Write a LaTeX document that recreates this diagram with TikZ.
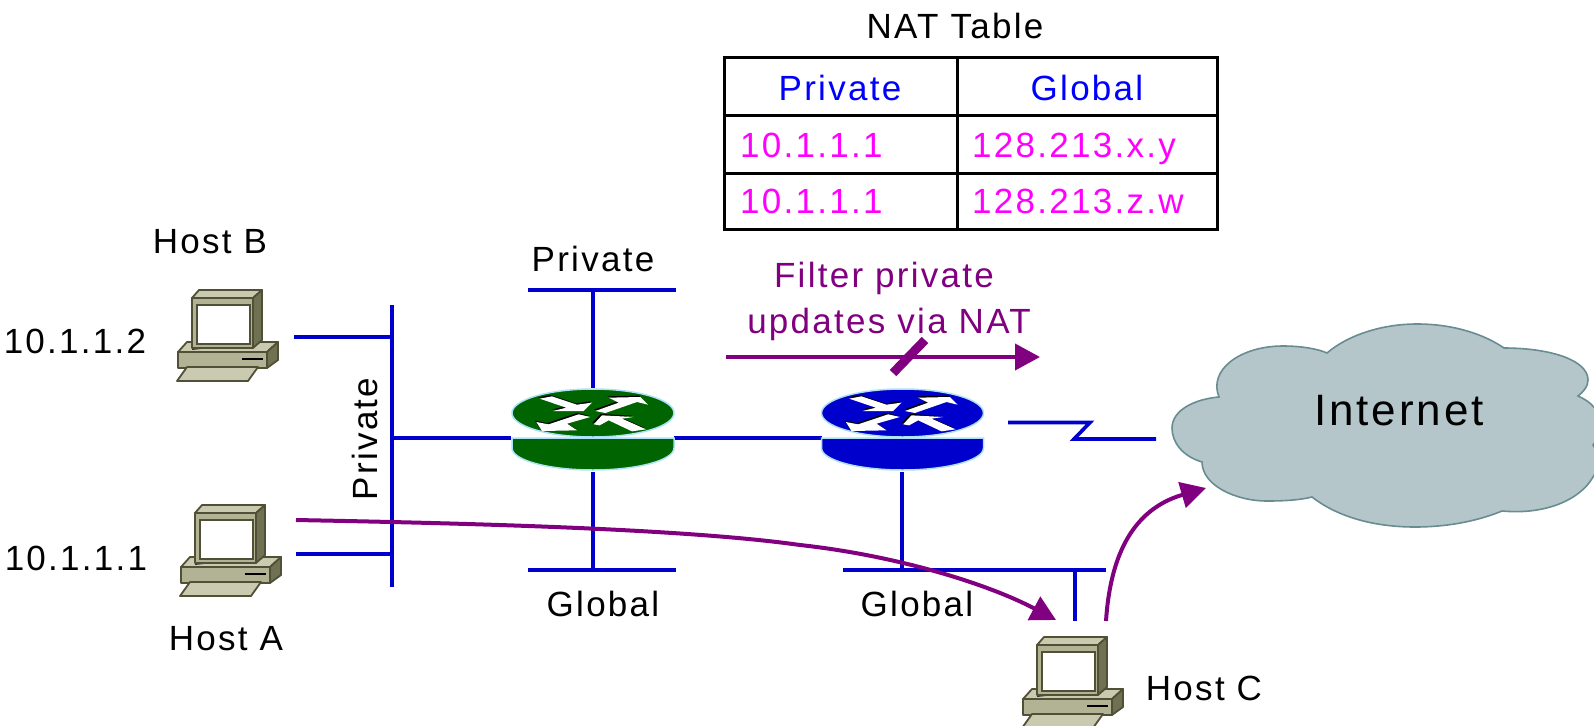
\documentclass[tikz,border=0pt]{standalone}
\usepackage{fontspec}
\setmainfont[LetterSpace=6.5]{Liberation Sans}
\usetikzlibrary{arrows.meta}
\definecolor{netblue}{RGB}{0,0,204}
\definecolor{txtblue}{RGB}{0,0,255}
\definecolor{pink}{RGB}{255,0,255}
\definecolor{plum}{RGB}{128,0,128}
\definecolor{cloudfill}{RGB}{180,198,202}
\definecolor{cloudline}{RGB}{105,140,145}
\definecolor{pcline}{RGB}{80,80,55}
\definecolor{pcfront}{RGB}{178,178,148}
\definecolor{pctop}{RGB}{202,202,176}
\definecolor{pcside}{RGB}{112,112,82}
\definecolor{rgreen}{RGB}{0,100,0}
\definecolor{rblue}{RGB}{0,0,204}
\definecolor{redge}{RGB}{170,225,245}
\newcommand{\rarrows}{%
  (-160,-43)--(-123,-50)--(-48,-25)--(-3,-31)--(-28,-6)--(-120,-6)--(-80,-16)--cycle
  (7,-6)--(77,-31)--(47,-46)--(142,-48)--(165,-25)--(132,-33)--(37,0)--cycle
  (-8,12)--(-78,32)--(-48,52)--(-153,54)--(-170,27)--(-133,34)--(-43,4)--cycle
  (2,34)--(27,7)--(122,12)--(87,17)--(159,49)--(117,55)--(47,22)--(20,37)--cycle}
\tikzset{
  x=1pt,y=-1pt,
  net/.style={draw=netblue,line width=3.6pt},
  flow/.style={draw=plum,line width=4pt,-{Triangle[length=25pt,width=26pt]}},
  label/.style={inner sep=0pt,anchor=base,font=\fontsize{35}{40}\selectfont},
  cell/.style={label,text=txtblue},
  val/.style={label,text=pink,anchor=base west},
  note/.style={label,text=plum},
  grid/.style={draw=black,line width=3pt},
  pcedge/.style={draw=pcline,line width=1.8pt,line join=round},
  pics/pc/.style={code={
    \path[pcedge,fill=pctop] (18,72)--(27,62)--(118,62)--(107,72)--cycle;
    \path[pcedge,fill=pcside] (107,72)--(118,62)--(118,80)--(107,88)--cycle;
    \path[pcedge,fill=pcfront] (18,72)--(107,72)--(107,88)--(18,88)--cycle;
    \draw[black,line width=1.5pt] (82,79)--(103,79);
    \path[fill=black!80] (32,68)--(93,68)--(101,62)--(32,70)--cycle;
    \path[pcedge,fill=pctop] (32,18)--(39,10)--(102,10)--(93,18)--cycle;
    \path[pcedge,fill=pcside] (93,18)--(102,10)--(102,60)--(93,68)--cycle;
    \path[pcedge,fill=pcfront] (32,18)--(93,18)--(93,68)--(32,68)--cycle;
    \path[draw=pcline,line width=1.5pt,fill=white] (37,25)--(90,25)--(90,64)--(37,64)--cycle;
    \path[pcedge,fill=pctop] (27,87)--(98,87)--(88,101)--(17,101)--cycle;
  }},
  pics/router/.style={code={
    \path[fill=#1,draw=redge,line width=1.5pt] (-81,25)--(-81,35) arc[start angle=180,end angle=360,x radius=81,y radius=-22]--(81,25)--cycle;
    \path[fill=#1,draw=redge,line width=1.5pt] (0,0) ellipse[x radius=81,y radius=24];
    \begin{scope}[scale=1/3]
      \path[fill=black,shift={(-4,-4)}] \rarrows;
      \path[fill=white] \rarrows;
    \end{scope}
  }}
}
\begin{document}
\begin{tikzpicture}
\useasboundingbox (0,0) rectangle (1594,725);
\begin{scope}
\clip (0,0) rectangle (1594,725);
% cloud
\path[fill=cloudfill,draw=cloudline,line width=1.6pt]
  (1202,462) .. controls (1182,456) and (1172,442) .. (1172,428)
  .. controls (1172,410) and (1195,399) .. (1219,397)
  .. controls (1208,370) and (1240,346) .. (1283,346)
  .. controls (1302,346) and (1318,349) .. (1327,353)
  .. controls (1348,335) and (1382,324) .. (1417,324)
  .. controls (1455,324) and (1485,335) .. (1504,348)
  .. controls (1550,348) and (1588,360) .. (1588,380)
  .. controls (1588,387) and (1583,392) .. (1578,396)
  .. controls (1592,402) and (1600,412) .. (1600,422)
  .. controls (1600,432) and (1598,440) .. (1593,445)
  .. controls (1600,455) and (1600,468) .. (1593,477)
  .. controls (1580,500) and (1545,515) .. (1502,511)
  .. controls (1475,522) and (1445,527) .. (1415,527)
  .. controls (1370,527) and (1335,515) .. (1312,497)
  .. controls (1300,500) and (1285,501) .. (1267,501)
  .. controls (1235,501) and (1202,485) .. (1202,462) -- cycle;
% named connection points
\coordinate (pubtop) at (392,305);
\coordinate (pubbot) at (392,587);
\coordinate (hbport) at (294,337);
\coordinate (pubhb) at (392,337);
\coordinate (haport) at (296,554);
\coordinate (pubha) at (392,554);
\coordinate (pubr1) at (392,438);
\coordinate (r1w) at (511,438);
\coordinate (r1e) at (674,438);
\coordinate (r2w) at (822,438);
\coordinate (r1n) at (593,388);
\coordinate (r1s) at (593,472);
\coordinate (r2s) at (902,472);
\coordinate (tbl) at (528,290);
\coordinate (tbr) at (676,290);
\coordinate (tbc) at (593,290);
\coordinate (bbl) at (528,570);
\coordinate (bbr) at (676,570);
\coordinate (bbc) at (593,570);
\coordinate (gbl) at (843,570);
\coordinate (gbr) at (1106,570);
\coordinate (gbr2) at (902,570);
\coordinate (gbhc) at (1075,570);
\coordinate (hcport) at (1075,621);
\coordinate (wanA) at (1008,422.5);
\coordinate (wanB) at (1090,422.5);
\coordinate (wanC) at (1074,439);
\coordinate (wanD) at (1156,439);
% networks
\draw[net] (pubtop)--(pubbot);
\draw[net] (hbport)--(pubhb);
\draw[net] (haport)--(pubha);
\draw[net] (pubr1)--(r1w);
\draw[net] (r1e)--(r2w);
\draw[net] (tbl)--(tbr);
\draw[net] (tbc)--(r1n);
\draw[net] (bbl)--(bbr);
\draw[net] (r1s)--(bbc);
\draw[net] (gbl)--(gbr);
\draw[net] (r2s)--(gbr2);
\draw[net] (gbhc)--(hcport);
\draw[net,line join=miter] (wanA)--(wanB)--(wanC)--(wanD);
% devices
\pic at (593,413) {router=rgreen};
\pic at (902.5,413) {router=rblue};
\pic at (160,280) {pc};
\pic at (163,495) {pc};
\pic at (1005,627) {pc};
% flows
\coordinate (fa) at (296,520);
\coordinate (fb) at (1056,620);
\coordinate (fc) at (1106,621);
\coordinate (fd) at (1206,488);
\coordinate (fe) at (726,357);
\coordinate (ff) at (1040,357);
\coordinate (sa) at (893,373);
\coordinate (sb) at (925,340);
\draw[flow] (fa) .. controls (450,523) and (680,528) .. (800,545)
  .. controls (900,556) and (990,585) .. (fb);
\draw[flow] (fc) .. controls (1110,560) and (1130,510) .. (fd);
\draw[flow] (fe)--(ff);
\draw[plum,line width=9pt] (sa)--(sb);
% table
\coordinate (t1) at (724,58);
\coordinate (t2) at (1217,229);
\coordinate (c1) at (957,58);
\coordinate (c2) at (957,229);
\coordinate (ra) at (724,115);
\coordinate (rb) at (1217,115);
\coordinate (rc) at (724,173);
\coordinate (rd) at (1217,173);
\draw[grid] (t1) rectangle (t2);
\draw[grid] (c1)--(c2);
\draw[grid] (ra)--(rb);
\draw[grid] (rc)--(rd);
\node[label] (nat) at (955,38) {NAT Table};
\node[cell] (hp) at (840,100) {Private};
\node[cell] (hg) at (1087,100) {Global};
\node[val] (v1) at (740,157) {10.1.1.1};
\node[val] (v2) at (972,157) {128.213.x.y};
\node[val] (v3) at (740,213) {10.1.1.1};
\node[val] (v4) at (972,213) {128.213.z.w};
% labels
\node[label] (hb) at (210,253) {Host B};
\node[label] (ipb) at (75,353) {10.1.1.2};
\node[label] (ha) at (226,650) {Host A};
\node[label] (ipa) at (76,570) {10.1.1.1};
\node[label] (hc) at (1204,700) {Host C};
\node[label,rotate=90] (pv) at (377,439) {Private};
\node[label] (pt) at (593,271) {Private};
\node[label] (g1) at (603,616) {Global};
\node[label] (g2) at (917,616) {Global};
\node[note] (f1) at (884,287) {Filter private};
\node[note] (f2) at (889,333) {updates via NAT};
\node[label,font=\fontsize{44}{50}\selectfont] (inet) at (1399,425) {Internet};
\end{scope}
\end{tikzpicture}
\end{document}
